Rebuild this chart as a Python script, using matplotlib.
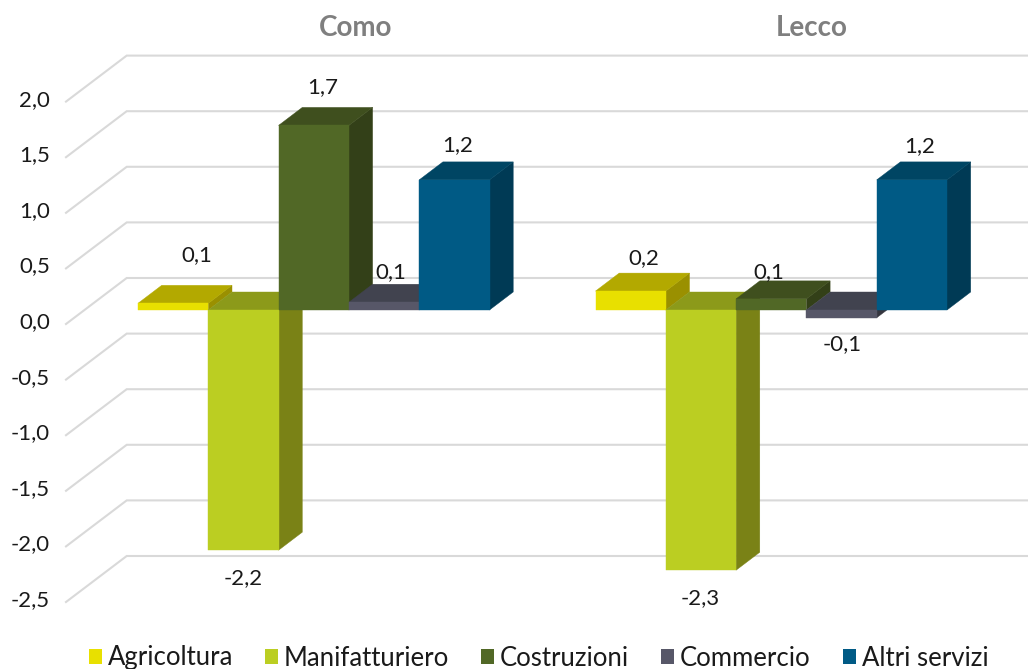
import matplotlib
matplotlib.use("Agg")
import matplotlib.pyplot as plt
from matplotlib.patches import Polygon, Patch
from matplotlib.transforms import ScaledTranslation

plt.rcParams['font.family'] = ['Lato', 'DejaVu Sans']

# ---- data ----
groups = ["Como", "Lecco"]
series = ["Agricoltura", "Manifatturiero", "Costruzioni", "Commercio", "Altri servizi"]
como_values = [0.06, -2.16, 1.66, 0.07, 1.17]
lecco_values = [0.17, -2.34, 0.10, -0.07, 1.17]
y_ticks = [2.0, 1.5, 1.0, 0.5, 0.0, -0.5, -1.0, -1.5, -2.0, -2.5]

# ---- styles ----
front_colors = ["#E8E000", "#BBCE22", "#516826", "#575768", "#005A85"]
top_colors = ["#B3A900", "#8C9A1A", "#3F4F1E", "#41434F", "#004563"]
side_colors = ["#9A9000", "#7A8216", "#334018", "#35363F", "#003A55"]
grid_color = "#D9D9D9"

# ---- layout (pixels on a 1028x669 canvas) ----
W, H = 1028, 669
px_per_unit = 111.2
zero_px = 310
group_x0 = [138, 595.5]
bar_w = 70.3
depth_x, depth_y = 23.7, 18 / px_per_unit
back_off = 32 / px_per_unit
front_off = -14 / px_per_unit
como_offsets = [(24, 48), (0, -28), (8.5, 38), (7, 30), (3.5, 35)]
lecco_offsets = [(13, 33), (-1, -28), (-2, 27), (1, -26), (8, 34)]
group_title_x = [356, 812]

fig = plt.figure(figsize=(W / 100, H / 100), dpi=100)
ax = fig.add_axes([0, 0, 1, 1])
ax.set_xlim(0, W)
ax.set_ylim(-(H - zero_px) / px_per_unit, zero_px / px_per_unit)
for s in ax.spines.values():
    s.set_visible(False)
ax.set_xticks([])
ax.set_yticks(y_ticks)
ax.set_yticklabels([f"{v:.1f}".replace(".", ",") for v in y_ticks], fontsize=16, color="#1A1A1A")
ax.tick_params(axis="y", length=0, pad=-36)
shift = ScaledTranslation(0, -10 / 100, fig.dpi_scale_trans)
for lab in ax.get_yticklabels():
    lab.set_transform(lab.get_transform() + shift)

for v in y_ticks:
    ax.plot([66, 126.7, W], [v + front_off, v + back_off, v + back_off],
            color=grid_color, lw=1.5, zorder=1, solid_joinstyle="miter")


def bar3d(x, v, j, z):
    lo, hi = min(v, 0), max(v, 0)
    ax.add_patch(Polygon([(x + bar_w, lo), (x + bar_w + depth_x, lo + depth_y),
                          (x + bar_w + depth_x, hi + depth_y), (x + bar_w, hi)],
                         fc=side_colors[j], ec=side_colors[j], lw=0.3, zorder=z))
    ax.add_patch(Polygon([(x, hi), (x + depth_x, hi + depth_y),
                          (x + bar_w + depth_x, hi + depth_y), (x + bar_w, hi)],
                         fc=top_colors[j], ec=top_colors[j], lw=0.3, zorder=z + 0.1))
    ax.add_patch(Polygon([(x, lo), (x + bar_w, lo), (x + bar_w, hi), (x, hi)],
                         fc=front_colors[j], ec=front_colors[j], lw=0.3, zorder=z + 0.2))


for g, (vals, offs) in enumerate([(como_values, como_offsets), (lecco_values, lecco_offsets)]):
    for j, v in enumerate(vals):
        x = group_x0[g] + j * bar_w
        bar3d(x, v, j, 2 + j)
        dx, dy = offs[j]
        ax.annotate(f"{v:.1f}".replace(".", ","), (x + bar_w / 2, v),
                    xytext=(dx, dy), textcoords="offset pixels",
                    ha="center", va="center", fontsize=16, color="#1A1A1A", zorder=10)
    ax.text(group_title_x[g], (zero_px - 28.5) / px_per_unit, groups[g], ha="center", va="center",
            fontsize=20, fontweight="bold", color="#7F7F7F")

handles = [Patch(fc=c, ec="none", label=n) for c, n in zip(front_colors, series)]
fig.legend(handles=handles, loc="center", bbox_to_anchor=(538.5 / W, 1 - 658 / H), ncol=5,
           frameon=False, fontsize=18.5, handlelength=0.5, handleheight=0.5,
           handletextpad=0.23, columnspacing=1.25, labelcolor="#1A1A1A", borderpad=0)

fig.savefig("out.png", dpi=100)
